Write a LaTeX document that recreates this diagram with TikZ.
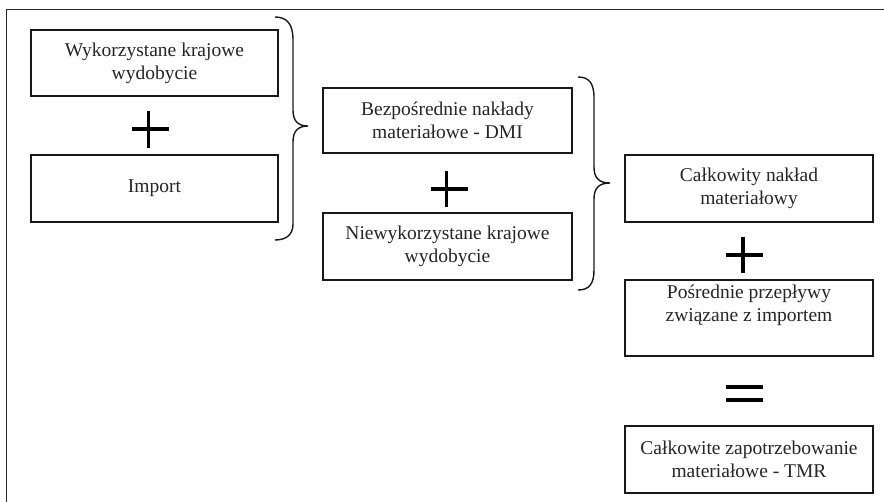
\documentclass[tikz,border=0pt]{standalone}
\usepackage{fontspec}
\setmainfont{Liberation Serif}
\begin{document}
\begin{tikzpicture}[x=1pt,y=-1pt,
  box/.style={draw=black!90,line width=1.6pt,align=center,inner sep=0pt,
    font=\fontsize{19.5}{23}\selectfont,text=black!85},
  sign/.style={line width=3.4pt,black},
  curly/.style={line width=1.4pt,black!90}]
\useasboundingbox (0,0) rectangle (884,501);
\fill[white] (0,0) rectangle (884,501);
% outer frame (runs past the right and bottom edges)
\draw[line width=1.6pt,black!85] (6.5,9.5) rectangle (900,520);

% first column
\node[box,minimum width=247pt,minimum height=66pt] (wyd) at (154.5,63)
  {Wykorzystane krajowe\\wydobycie};
\node[box,minimum width=247pt,minimum height=67pt] (imp) at (154.5,188.5)
  {Import};
\draw[sign] (132,129) -- (169,129) (148.5,110.5) -- (148.5,147.5);
\draw[curly] (275,17) .. controls (287,17) and (293,24) .. (293,40)
  -- (293,110) .. controls (293,121) and (298,126) .. (308,126)
  .. controls (298,126) and (293,131) .. (293,142)
  -- (293,224) .. controls (293,234) and (287,240) .. (275,240);

% second column
\node[box,minimum width=249pt,minimum height=65pt] (dmi) at (447.5,120.5)
  {Bezpośrednie nakłady\\materiałowe - DMI};
\node[box,minimum width=249pt,minimum height=67pt] (nie) at (447.5,246.5)
  {Niewykorzystane krajowe\\wydobycie};
\draw[sign] (431,189) -- (468,189) (446.5,171) -- (446.5,206.5);
\draw[curly] (578,77) .. controls (589,77) and (594,83) .. (594,98)
  -- (594,167) .. controls (594,178) and (599,183) .. (610,183)
  .. controls (599,183) and (594,188) .. (594,199)
  -- (594,270) .. controls (594,284) and (589,290) .. (578,290);

% third column
\node[box,minimum width=248pt,minimum height=67pt] (cal) at (749,188.5)
  {Całkowity nakład\\materiałowy};
\node[box,minimum width=248pt,minimum height=76pt] (pos) at (749,318)
  {Pośrednie przepływy\\związane z importem\\[0pt]\strut};
\node[box,minimum width=248pt,minimum height=67pt] (tmr) at (749,459.5)
  {Całkowite zapotrzebowanie\\materiałowe - TMR};
\draw[sign] (726,255) -- (763,255) (743,237) -- (743,273);
\draw[sign] (726,387) -- (763,387) (726,400) -- (763,400);
\end{tikzpicture}
\end{document}
